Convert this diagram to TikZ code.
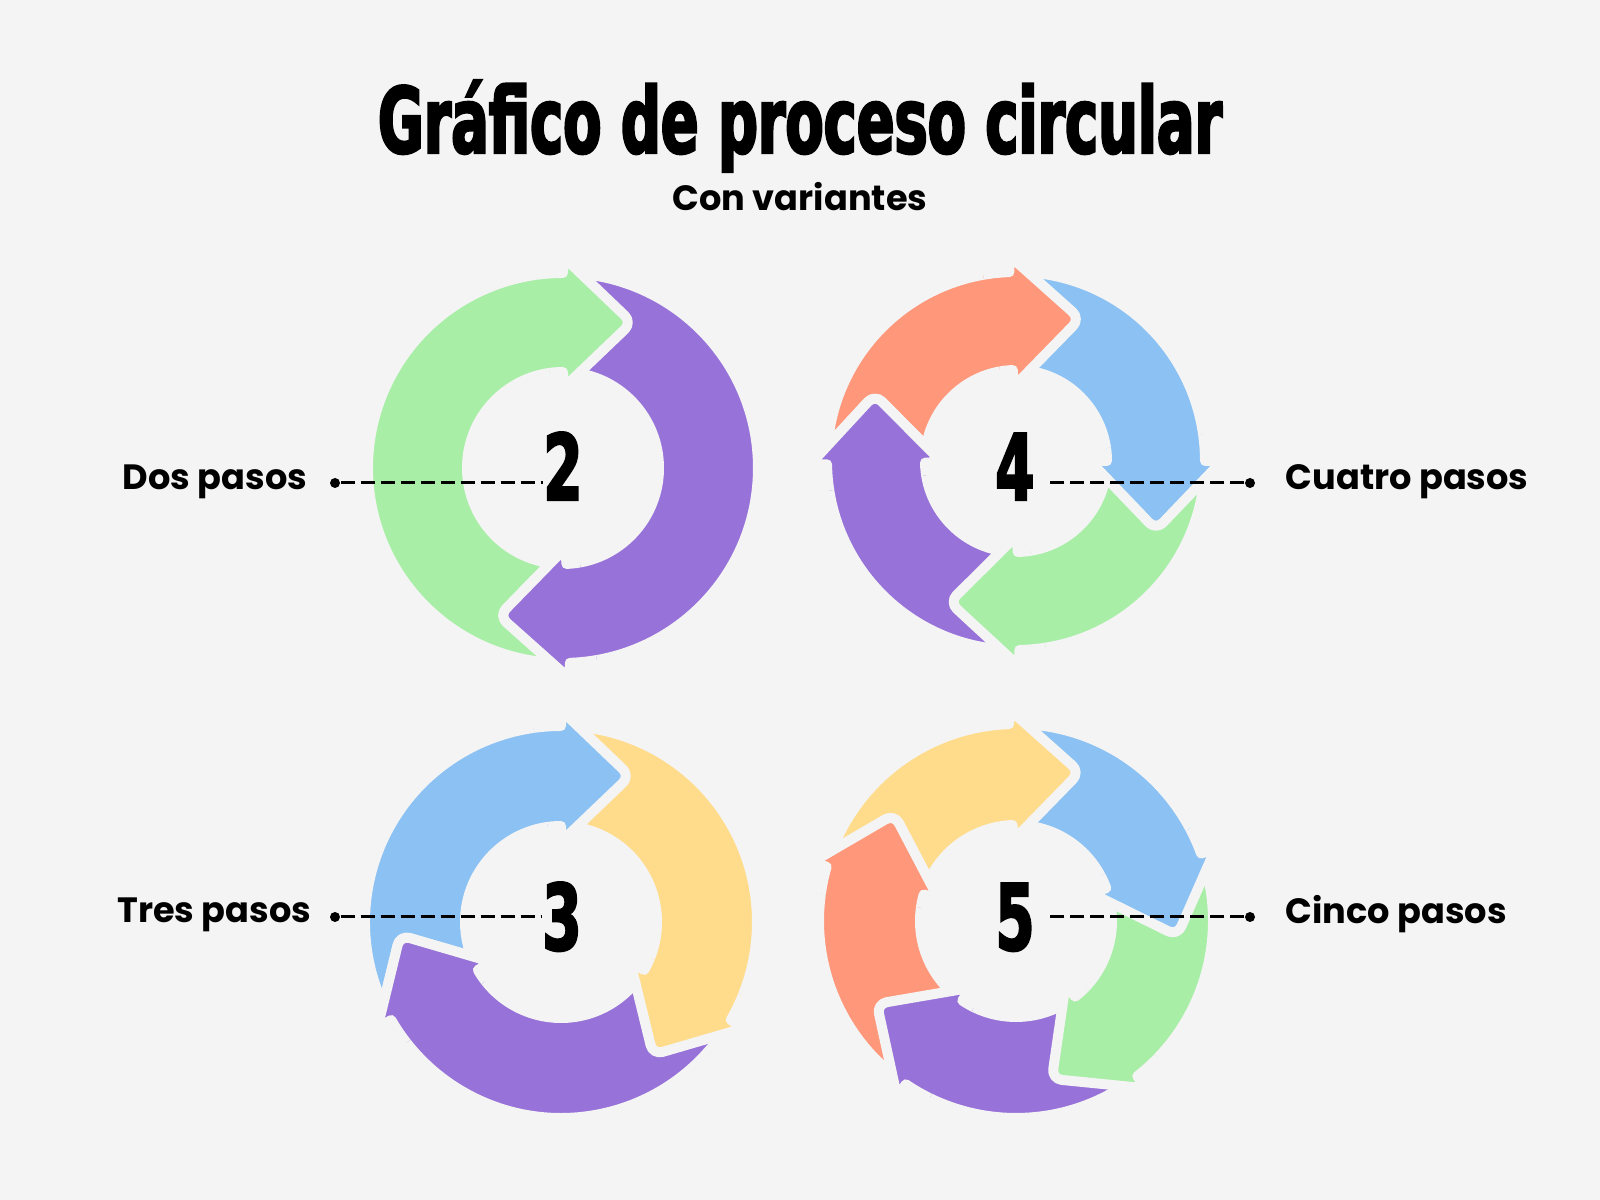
\documentclass[tikz,border=0pt]{standalone}
\usepackage{fontspec}
\setmainfont{Poppins}
\newfontfamily\titlefont{DejaVu Sans}[FakeStretch=0.61, BoldFeatures={FakeBold=2.5}]
\usetikzlibrary{calc,positioning}

\definecolor{bgcol}{HTML}{F4F4F4}
\definecolor{grn}{HTML}{A8EEA6}
\definecolor{prp}{HTML}{9772D9}
\definecolor{blu}{HTML}{8BC1F3}
\definecolor{ylw}{HTML}{FFDC8C}
\definecolor{org}{HTML}{FF977B}

% one curved arrow: centre, outer R, inner r, tail angle, head angle, colour
\newcommand{\cyclearrow}[6]{%
  \path[piece, fill=#6]
    ($(#1)+(#4:{#2+5})$) arc[start angle=#4, end angle=#5, radius=#2+5]
    [rounded corners=1mm] -- ($(#1)+(#5:{(#2+#3)/2+66})$)
    -- ($(#1)+(#5:{(#2+#3)/2})+(#5-90:69)$)
    -- ($(#1)+(#5:{(#2+#3)/2-66})$)
    [sharp corners] -- ($(#1)+(#5:{#3-5})$)
    arc[start angle=#5, end angle=#4, radius=#3-5] -- cycle;}
% the same arrow again, only round its head
\newcommand{\cyclehead}[6]{%
  \begin{scope}
    \clip (#1) -- ($(#1)+(#5+8:320)$) arc[start angle=#5+8, end angle=#5-45, radius=320] -- cycle;
    \cyclearrow{#1}{#2}{#3}{#4}{#5}{#6}
  \end{scope}}

\begin{document}
\begin{tikzpicture}[x=0.1mm, y=0.1mm,
  piece/.style={draw=bgcol, line width=1mm, line join=round},
  num/.style={font=\titlefont\bfseries\fontsize{26}{30}\selectfont, inner sep=0pt, anchor=base},
  lab/.style={font=\bfseries\fontsize{10}{12}\selectfont, inner sep=0pt},
  dot/.style={circle, fill=black, minimum size=1mm, inner sep=0pt},
  dashline/.style={line width=0.3mm, dash pattern=on 1.4mm off 0.6mm}]
\useasboundingbox (0, 0) rectangle (1600, 1200);
\fill [bgcol] (0, 0) rectangle (1600, 1200);
%\draw [help lines, step=100] (0, 0) grid (1600, 1200);
\node [num] (title) at (800, 1047) {Gráfico de proceso circular};
\node [lab, anchor=base] (subtitle) at (800, 989) {Con variantes};

\coordinate (c2) at (563, 732);
\coordinate (c4) at (1016, 739);
\coordinate (c3) at (561, 278);
\coordinate (c5) at (1016, 279);

% two steps
\foreach \t/\b/\col in {270.5/90/grn, 88.5/-88/prp}
  {\cyclearrow{c2}{190}{101}{\t}{\b}{\col}}
\foreach \t/\b/\col in {270.5/90/grn, 88.5/-88/prp}
  {\cyclehead{c2}{190}{101}{\t}{\b}{\col}}
% four steps
\foreach \t/\b/\col in {179.5/92/org, 90.5/0/blu, -1.5/-89/grn, -90.5/-179/prp}
  {\cyclearrow{c4}{184}{96}{\t}{\b}{\col}}
\foreach \t/\b/\col in {179.5/92/org, 90.5/0/blu, -1.5/-89/grn, -90.5/-179/prp}
  {\cyclehead{c4}{184}{96}{\t}{\b}{\col}}
% three steps
\foreach \t/\b/\col in {208.5/90/blu, 88.5/-30/ylw, -31.5/-150/prp}
  {\cyclearrow{c3}{191}{101}{\t}{\b}{\col}}
\foreach \t/\b/\col in {208.5/90/blu, 88.5/-30/ylw, -31.5/-150/prp}
  {\cyclehead{c3}{191}{101}{\t}{\b}{\col}}
% five steps
\foreach \t/\b/\col in {162.5/92/ylw, 90.5/20/blu, 18.5/-52/grn, -53.5/-124/prp, -125.5/-196/org}
  {\cyclearrow{c5}{192}{101}{\t}{\b}{\col}}
\foreach \t/\b/\col in {162.5/92/ylw, 90.5/20/blu, 18.5/-52/grn, -53.5/-124/prp, -125.5/-196/org}
  {\cyclehead{c5}{192}{101}{\t}{\b}{\col}}

\node [num] (n2) at (563, 700) {2};
\node [num] (n4) at (1015, 700) {4};
\node [num] (n3) at (562, 250) {3};
\node [num] (n5) at (1015, 250) {5};

\node [dot] (d2) at (335, 717) {};
\node [dot] (d3) at (335, 283) {};
\node [dot] (d4) at (1250, 717) {};
\node [dot] (d5) at (1250, 283) {};

\draw [dashline] (d2) -- (d2 -| n2.west);
\draw [dashline] (d3) -- (d3 -| n3.west);
\draw [dashline] (d4) -- ($(d4 -| n4.east)+(10, 0)$);
\draw [dashline] (d5) -- ($(d5 -| n5.east)+(10, 0)$);

\node [lab, anchor=base east] (l2) at (308, 710) {Dos pasos};
\node [lab, anchor=base east] (l3) at (312, 277) {Tres pasos};
\node [lab, anchor=base west] (l4) at (1285, 710) {Cuatro pasos};
\node [lab, anchor=base west] (l5) at (1285, 276) {Cinco pasos};
\end{tikzpicture}
\end{document}
